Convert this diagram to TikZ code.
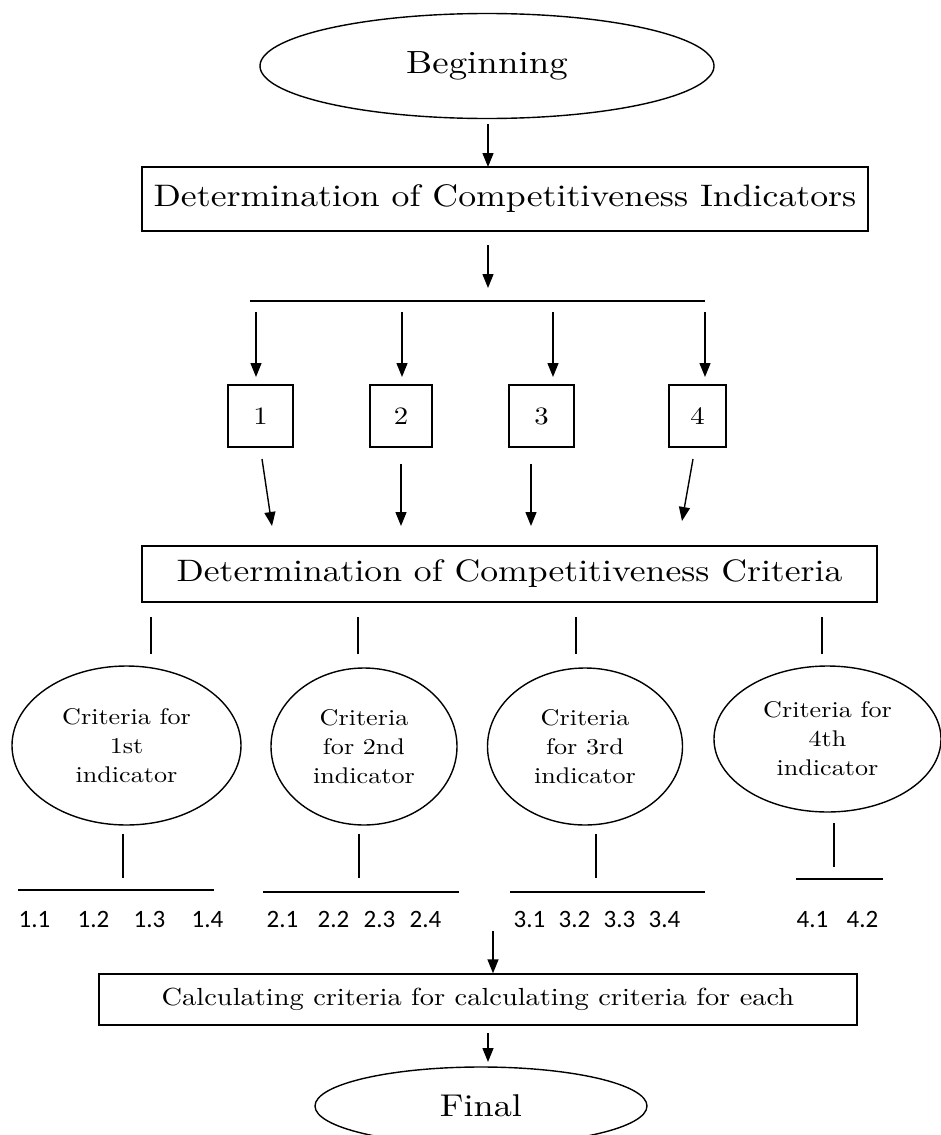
\documentclass[tikz,border=0pt]{standalone}
\usepackage{fontspec}
\setmainfont{lmroman10-regular}[Extension=.otf,FakeStretch=1.15]
\newfontfamily\labfont{Carlito}
\usetikzlibrary{shapes.geometric,arrows.meta}
\begin{document}
\begin{tikzpicture}[x=1pt,y=-1pt,
  line width=1.4pt,
  arr/.style={-{Triangle[length=14pt,width=11pt]}},
  bigbox/.style={draw,rectangle,inner sep=0pt,font=\fontsize{31.1}{36}\selectfont},
  numbox/.style={draw,rectangle,inner sep=0pt,minimum height=62pt,font=\fontsize{25}{30}\selectfont},
  oval/.style={draw,ellipse,inner sep=0pt,font=\fontsize{31.5}{36}\selectfont},
  critoval/.style={draw,ellipse,inner sep=0pt,align=center,font=\fontsize{22.7}{29}\selectfont},
  lab/.style={anchor=base west,inner sep=0pt,font=\labfont\fontsize{25}{28}\selectfont},
]
\useasboundingbox (0,0) rectangle (941,1135);

% top
\node[oval,minimum width=454pt,minimum height=105pt,font=\fontsize{32.1}{36}\selectfont] (beg) at (487,66) {Beginning};
\node[bigbox,minimum width=726pt,minimum height=64pt] (ind) at (505,199) {Determination of Competitiveness Indicators};
\coordinate (a1s) at (488,124);
\coordinate (a1e) at (488,167);
\draw[arr] (a1s) -- (a1e);
\coordinate (a2s) at (488,245);
\coordinate (a2e) at (488,288);
\draw[arr] (a2s) -- (a2e);

% distribution bar
\coordinate (hl) at (250,301);
\coordinate (hr) at (705,301);
\draw (hl) -- (hr);

% numbered boxes
\node[numbox,minimum width=65pt] (n1) at (260.5,416) {1};
\node[numbox,minimum width=62pt] (n2) at (401,416) {2};
\node[numbox,minimum width=65pt] (n3) at (541.5,416) {3};
\node[numbox,minimum width=57pt] (n4) at (697.5,416) {4};

\foreach \i/\x in {1/256,2/402,3/553,4/705}{
  \coordinate (t\i) at (\x,312);
  \coordinate (u\i) at (\x,377);
  \draw[arr] (t\i) -- (u\i);
}

% arrows to criteria box
\coordinate (d1s) at (262,459); \coordinate (d1e) at (272,526);
\coordinate (d2s) at (401,464); \coordinate (d2e) at (401,526);
\coordinate (d3s) at (531,464); \coordinate (d3e) at (531,526);
\coordinate (d4s) at (693,459); \coordinate (d4e) at (682,521);
\foreach \i in {1,2,3,4}{ \draw[arr] (d\i s) -- (d\i e); }

\node[bigbox,minimum width=735pt,minimum height=56pt,font=\fontsize{31}{36}\selectfont] (crit) at (509.5,574) {Determination of Competitiveness Criteria};

% stubs under criteria box
\foreach \i/\x in {1/151,2/358,3/576,4/822}{
  \coordinate (s\i a) at (\x,617);
  \coordinate (s\i b) at (\x,654);
  \draw (s\i a) -- (s\i b);
}

% criteria ellipses
\node[critoval,minimum width=229pt,minimum height=159pt] (c1) at (126.5,745.5) {Criteria for\\1st\\indicator};
\node[critoval,minimum width=186pt,minimum height=157pt] (c2) at (364,746.5) {Criteria\\for 2nd\\indicator};
\node[critoval,minimum width=195pt,minimum height=157pt] (c3) at (585,746.5) {Criteria\\for 3rd\\indicator};
\node[critoval,minimum width=227pt,minimum height=146pt] (c4) at (827.5,739) {Criteria for\\4th\\indicator};

% stems and bars
\coordinate (v1a) at (123,834); \coordinate (v1b) at (123,878);
\coordinate (v2a) at (359,834); \coordinate (v2b) at (359,878);
\coordinate (v3a) at (596,834); \coordinate (v3b) at (596,878);
\coordinate (v4a) at (834,823); \coordinate (v4b) at (834,867);
\foreach \i in {1,2,3,4}{ \draw (v\i a) -- (v\i b); }
\coordinate (h1a) at (18,890);  \coordinate (h1b) at (214,890);
\coordinate (h2a) at (263,892); \coordinate (h2b) at (459,892);
\coordinate (h3a) at (510,892); \coordinate (h3b) at (705,892);
\coordinate (h4a) at (796,879); \coordinate (h4b) at (883,879);
\foreach \i in {1,2,3,4}{ \draw (h\i a) -- (h\i b); }

% sub-criteria labels
\node[lab] (l11) at (18,927) {1.1};
\node[lab] (l12) at (77,927) {1.2};
\node[lab] (l13) at (133,927) {1.3};
\node[lab] (l14) at (191,927) {1.4};
\node[lab] (l21) at (266,927) {2.1};
\node[lab] (l22) at (317,927) {2.2};
\node[lab] (l23) at (363,927) {2.3};
\node[lab] (l24) at (409,927) {2.4};
\node[lab] (l31) at (513,927) {3.1};
\node[lab] (l32) at (558,927) {3.2};
\node[lab] (l33) at (603,927) {3.3};
\node[lab] (l34) at (648,927) {3.4};
\node[lab] (l41) at (796,927) {4.1};
\node[lab] (l42) at (846,927) {4.2};

% calculation box
\node[bigbox,minimum width=758pt,minimum height=51pt,font=\fontsize{24.7}{30}\selectfont] (calc) at (478,999.5) {Calculating criteria for calculating criteria for each};
\coordinate (a3s) at (493,931);
\draw[arr] (a3s) -- (a3s |- calc.north);

% final
\node[oval,minimum width=332pt,minimum height=78pt] (fin) at (481,1106) {Final};
\coordinate (a4s) at (488,1033);
\coordinate (a4e) at (488,1062);
\draw[arr] (a4s) -- (a4e);
\end{tikzpicture}
\end{document}
